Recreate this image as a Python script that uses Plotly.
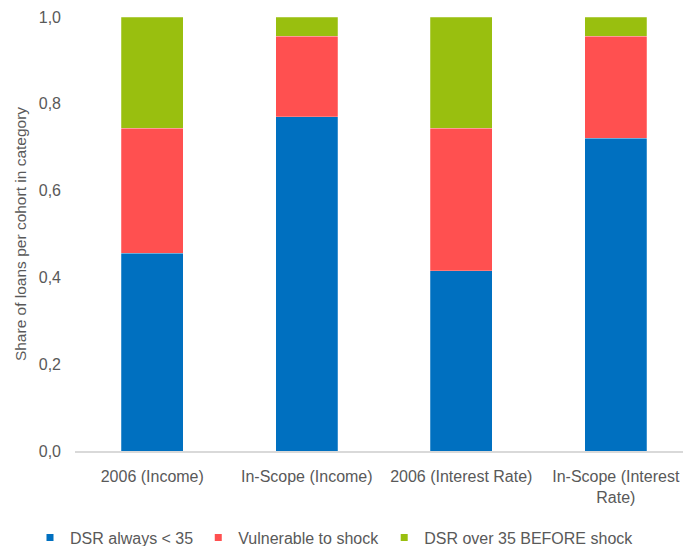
import plotly.graph_objects as go

categories = ["2006 (Income)", "In-Scope (Income)", "2006 (Interest Rate)", "In-Scope (Interest<br>Rate)"]
dsr_always_below = [0.456, 0.770, 0.415, 0.721]
vulnerable = [0.288, 0.186, 0.329, 0.235]
dsr_over_before = [0.256, 0.044, 0.256, 0.044]

series = [
    ("DSR always < 35", dsr_always_below, "#0070C0"),
    ("Vulnerable to shock", vulnerable, "#FF5050"),
    ("DSR over 35 BEFORE shock", dsr_over_before, "#99BF0F"),
]

fig = go.Figure()
for name, vals, color in series:
    fig.add_trace(go.Bar(
        x=categories, y=vals, name=name, showlegend=False,
        marker=dict(color=color, line=dict(color="rgba(255,255,255,0.4)", width=0.6)),
        width=0.40,
    ))
# legend entries with small square keys
for name, vals, color in series:
    fig.add_trace(go.Scatter(
        x=[None], y=[None], mode="markers", name=name,
        marker=dict(symbol="square", size=7, color=color),
    ))

font_family = "Liberation Sans, Arial, sans-serif"
fig.update_layout(
    barmode="stack",
    width=683, height=546,
    margin=dict(l=75, r=0, t=17, b=95),
    paper_bgcolor="white", plot_bgcolor="white",
    font=dict(family=font_family, size=16, color="#595959"),
    separators=",.",
    showlegend=True,
    legend=dict(orientation="h", xref="container", x=30 / 683, xanchor="left",
                yref="container", y=(546 - 537.5) / 546, yanchor="middle",
                font=dict(size=16, color="#595959"),
                traceorder="normal"),
    xaxis=dict(range=[-0.5, 3.435], showgrid=False, showline=True, linecolor="#D9D9D9",
               linewidth=1.5, ticks="", tickfont=dict(size=16, color="#595959"),
               ticklabelstandoff=10),
    yaxis=dict(range=[0, 1.0], dtick=0.2, tickformat=".1f", showgrid=False, zeroline=False,
               showline=False, ticks="", tickfont=dict(size=16, color="#595959"),
               ticklabelstandoff=13,
               title=dict(text="Share of loans per cohort in category", standoff=8,
                          font=dict(size=15.5, color="#595959"))),
)

fig.write_html("out.html")
